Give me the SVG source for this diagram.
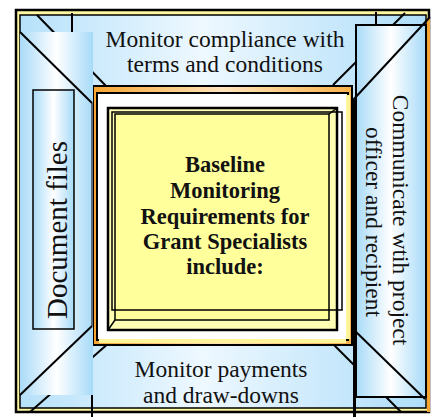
<svg xmlns="http://www.w3.org/2000/svg" width="433" height="417" viewBox="0 0 433 417">
<style>
.ln{stroke:#000;fill:none;stroke-width:2}
.lab{font-family:"Liberation Serif","Times New Roman",serif;font-size:23.5px;fill:#111;text-anchor:middle}
.ctr{font-family:"Liberation Serif","Times New Roman",serif;font-size:22.5px;font-weight:bold;fill:#111;text-anchor:middle}
</style>
<defs>
<linearGradient id="band" x1="0" y1="0" x2="1" y2="0">
<stop offset="0" stop-color="#B6E1FA"/>
<stop offset="0.45" stop-color="#EEF8FF"/>
<stop offset="1" stop-color="#AEDDF9"/>
</linearGradient>
<linearGradient id="cyl" x1="0" y1="0" x2="1" y2="0">
<stop offset="0" stop-color="#A9DBF8"/>
<stop offset="0.5" stop-color="#FFFFFF"/>
<stop offset="1" stop-color="#A6DAF8"/>
</linearGradient>
<linearGradient id="org" x1="0" y1="0" x2="1" y2="0">
<stop offset="0" stop-color="#F7A530"/>
<stop offset="0.5" stop-color="#FFE4BC"/>
<stop offset="1" stop-color="#F9B24A"/>
</linearGradient>
</defs>

<g id="outer-frame">
<rect x="16" y="10" width="413" height="402" fill="#FFF8A0" stroke="#000" stroke-width="2.5"/>
<rect x="20" y="15" width="406" height="393" fill="url(#band)" stroke="#000" stroke-width="1.5"/>
<rect x="427" y="18" width="3" height="394" fill="#F7A530"/>
<line class="ln" x1="37" y1="15" x2="107" y2="87"/>
<line class="ln" x1="405" y1="13" x2="333" y2="85"/>
<line class="ln" x1="30" y1="412" x2="110" y2="342"/>
<line class="ln" x1="333" y1="344" x2="401" y2="412"/>
<line class="ln" x1="72" y1="13" x2="72" y2="32"/>
<line class="ln" x1="376" y1="12" x2="376" y2="100"/>
<line class="ln" x1="92" y1="395" x2="92" y2="417"/>
<line class="ln" x1="355" y1="395" x2="355" y2="417"/>
</g>

<g id="inner-frame">
<rect x="93" y="86" width="259" height="259" fill="url(#org)" stroke="#000" stroke-width="2"/>
<rect x="97" y="93" width="251" height="247" fill="#FFFFFF" stroke="#000" stroke-width="2"/>
<rect x="99" y="339" width="247" height="4" fill="#FFF49A"/>
<rect x="346" y="95" width="4" height="244" fill="#FFF49A"/>
</g>

<g id="center-node">
<rect x="108" y="108" width="229" height="222" fill="#FFFFB4" stroke="#000" stroke-width="2.5"/>
<rect x="115" y="114" width="214" height="206" fill="#FFFF9C" stroke="#000" stroke-width="1.5"/>
<rect x="112" y="112" width="230" height="198" fill="none" stroke="#000" stroke-width="1.5"/>
<line x1="108" y1="330" x2="115" y2="320" stroke="#000" stroke-width="1.5"/>
<line x1="337" y1="108" x2="329" y2="114" stroke="#000" stroke-width="1.5"/>
<text class="ctr" x="225" y="172">Baseline</text>
<text class="ctr" x="225" y="198">Monitoring</text>
<text class="ctr" x="225" y="224">Requirements for</text>
<text class="ctr" x="225" y="249">Grant Specialists</text>
<text class="ctr" x="225" y="274">include:</text>
</g>

<g id="top-node">
<text class="lab" x="225" y="47">Monitor compliance with</text>
<text class="lab" x="225" y="72">terms and conditions</text>
</g>

<g id="bottom-node">
<text class="lab" x="221" y="377">Monitor payments</text>
<text class="lab" x="221" y="403">and draw-downs</text>
</g>

<g id="left-node">
<rect x="20" y="32" width="73" height="363" fill="url(#cyl)"/>
<line x1="92" y1="103" x2="92" y2="326" stroke="#445" stroke-width="1.5"/>
<line class="ln" x1="20" y1="32" x2="92" y2="103"/>
<line class="ln" x1="92" y1="326" x2="20" y2="395"/>
<rect x="33" y="90" width="41" height="239" fill="url(#cyl)" stroke="#000" stroke-width="1.5"/>
<text class="lab" style="font-size:29px" transform="translate(67,230) rotate(-90)">Document files</text>
</g>

<g id="right-node">
<line class="ln" x1="354" y1="100" x2="354" y2="417"/>
<rect x="356" y="25" width="70" height="372" fill="url(#cyl)" stroke="#000" stroke-width="2"/>
<line class="ln" x1="430" y1="17" x2="353" y2="100"/>
<line class="ln" x1="353" y1="329" x2="425" y2="399"/>
<text class="lab" transform="translate(393,220) rotate(90)">Communicate wtih project</text>
<text class="lab" transform="translate(366,222) rotate(90)">officer and recipient</text>
</g>

<g id="connectors"></g>
</svg>
